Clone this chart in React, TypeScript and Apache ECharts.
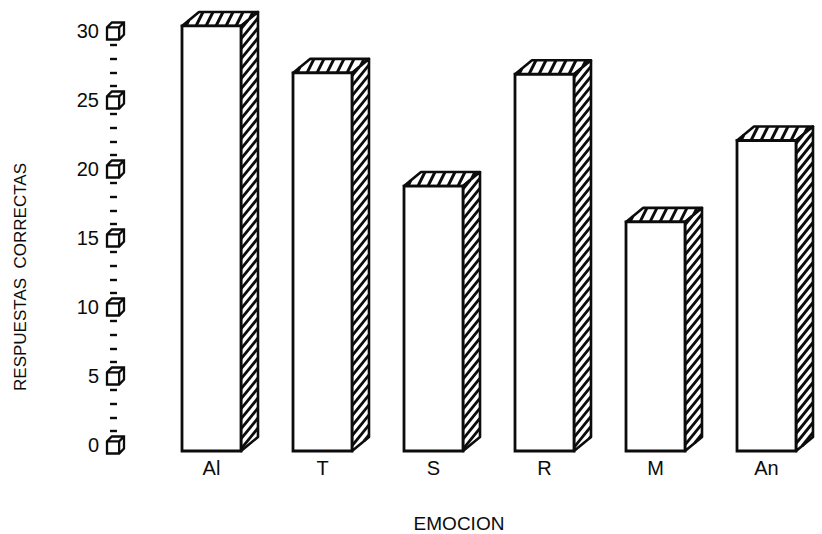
import React, { useEffect, useRef } from 'react';
import * as echarts from 'echarts';

const categories = ['Al', 'T', 'S', 'R', 'M', 'An'];
const respuestas = [30.8, 27.4, 19.2, 27.3, 16.6, 22.5];
const yTickValues = [0, 5, 10, 15, 20, 25, 30];
const xTitle = 'EMOCION';
const yTitle = 'RESPUESTAS  CORRECTAS';

const FONT = '"Liberation Sans", "DejaVu Sans", Arial, sans-serif';
const INK = '#0c0c0c';
const DX = 17;
const DY = 14;
const HALF = 29.5;

function renderBar(params: any, api: any) {
  const idx = api.value(0);
  const val = api.value(1);
  const top = api.coord([idx, val]);
  const bot = api.coord([idx, 0]);
  const cx = top[0];
  const xl = cx - HALF;
  const xr = cx + HALF;
  const yt = top[1];
  const yb = bot[1];
  const children: any[] = [];

  // top face
  children.push({
    type: 'polygon',
    shape: { points: [[xl, yt], [xr, yt], [xr + DX, yt - DY], [xl + DX, yt - DY]] },
    style: { fill: '#fff', stroke: 'none' },
  });
  const K = 7;
  const P = 10;
  for (let x0 = xl + 4; x0 < xr + (DX - K); x0 += P) {
    const t0 = Math.max(0, (x0 - xr) / (DX - K));
    const t1 = Math.min(1, (x0 - xl) / (DX - K));
    if (t1 <= t0) continue;
    children.push({
      type: 'line',
      shape: { x1: x0 + K * t0, y1: yt - DY * t0, x2: x0 + K * t1, y2: yt - DY * t1 },
      style: { stroke: INK, lineWidth: 3 },
    });
  }
  children.push({
    type: 'polygon',
    shape: { points: [[xl, yt], [xr, yt], [xr + DX, yt - DY], [xl + DX, yt - DY]] },
    style: { fill: 'none', stroke: INK, lineWidth: 2.6, lineJoin: 'round' },
  });

  // side face
  children.push({
    type: 'polygon',
    shape: { points: [[xr, yt], [xr + DX, yt - DY], [xr + DX, yb - DY], [xr, yb]] },
    style: { fill: '#fff', stroke: 'none' },
  });
  const S = 21;
  const PS = 10;
  for (let y0 = yt + 3; y0 < yb + (S - DY); y0 += PS) {
    const t0 = Math.max(0, (y0 - yb) / (S - DY));
    const t1 = Math.min(1, (y0 - yt) / (S - DY));
    if (t1 <= t0) continue;
    children.push({
      type: 'line',
      shape: { x1: xr + DX * t0, y1: y0 - S * t0, x2: xr + DX * t1, y2: y0 - S * t1 },
      style: { stroke: INK, lineWidth: 2.8 },
    });
  }
  children.push({
    type: 'polygon',
    shape: { points: [[xr, yt], [xr + DX, yt - DY], [xr + DX, yb - DY], [xr, yb]] },
    style: { fill: 'none', stroke: INK, lineWidth: 2.6, lineJoin: 'round' },
  });

  // front face
  children.push({
    type: 'rect',
    shape: { x: xl, y: yt, width: xr - xl, height: yb - yt },
    style: { fill: '#fff', stroke: INK, lineWidth: 2.8 },
  });

  return { type: 'group', children };
}

const cubePath =
  'path://M0,4 L4,0 L14,0 L14,10 L10,14 L0,14 Z M0,4 L10,4 L10,14 M10,4 L14,0';

export default function App() {
  const ref = useRef<HTMLDivElement>(null);

  useEffect(() => {
    if (!ref.current) return;
    const chart = echarts.init(ref.current, null, { renderer: 'svg' });
    chart.setOption({
      animation: false,
      backgroundColor: '#ffffff',
      textStyle: { fontFamily: FONT },
      grid: [
        { left: 110, top: 31, width: 10, height: 414 },
        { left: 156, top: 37, width: 677, height: 414 },
      ],
      xAxis: [
        { gridIndex: 0, type: 'value', min: 0, max: 10, show: false },
        {
          gridIndex: 1,
          type: 'category',
          data: categories,
          axisLine: { show: false },
          axisTick: { show: false },
          axisLabel: { color: INK, fontSize: 20, fontFamily: FONT, margin: 7 },
        },
      ],
      yAxis: [
        {
          gridIndex: 0,
          type: 'value',
          min: 0,
          max: 30,
          interval: 5,
          axisLine: { show: false },
          axisTick: { show: false, inside: true },
          splitLine: { show: false },
          minorTick: { show: true, splitNumber: 5, length: 7, lineStyle: { color: INK, width: 2.4 } },
          minorSplitLine: { show: false },
          axisLabel: { color: INK, fontSize: 20, fontFamily: FONT, margin: 11 },
        },
        { gridIndex: 1, type: 'value', min: 0, max: 30, show: false },
      ],
      graphic: [
        {
          type: 'text',
          x: 459,
          y: 523,
          style: {
            text: xTitle,
            fill: INK,
            font: `19px ${FONT}`,
            align: 'center',
            verticalAlign: 'middle',
          },
        },
        {
          type: 'text',
          x: 20,
          y: 277,
          rotation: Math.PI / 2,
          style: {
            text: yTitle,
            fill: INK,
            font: `17px ${FONT}`,
            align: 'center',
            verticalAlign: 'middle',
          },
        },
      ],
      series: [
        {
          type: 'scatter',
          xAxisIndex: 0,
          yAxisIndex: 0,
          symbol: cubePath,
          symbolSize: [17, 17],
          symbolKeepAspect: true,
          itemStyle: { color: '#fff', borderColor: INK, borderWidth: 2.3, opacity: 1 },
          data: yTickValues.map((v) => [5.5, v]),
          silent: true,
          z: 5,
        },
        {
          type: 'custom',
          xAxisIndex: 1,
          yAxisIndex: 1,
          renderItem: renderBar,
          clip: false,
          data: respuestas.map((v, i) => [i, v]),
        },
      ],
    });
    return () => chart.dispose();
  }, []);

  return (
    <div
      ref={ref}
      style={{ position: 'fixed', left: 0, top: 0, width: 822, height: 534 }}
    />
  );
}
